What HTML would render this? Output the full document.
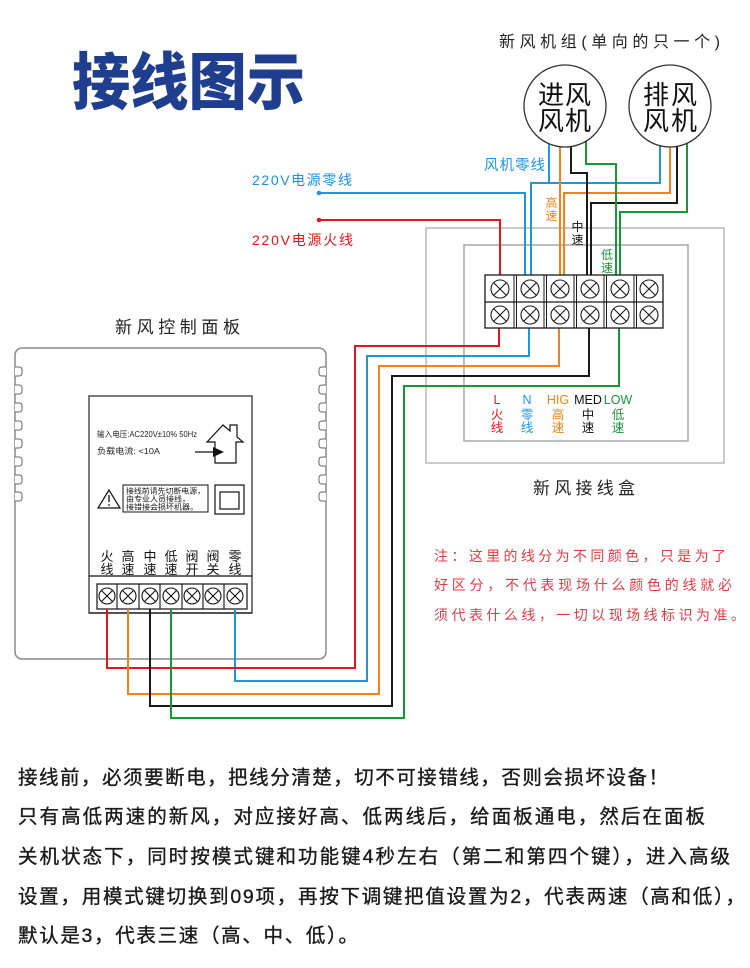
<!DOCTYPE html>
<html><head><meta charset="utf-8">
<style>
html,body{margin:0;padding:0;background:#fff;}
svg{display:block;}
text{font-family:"Liberation Sans","Noto Sans CJK SC",sans-serif;}
</style></head>
<body>
<svg width="750" height="968" viewBox="0 0 750 968" xmlns="http://www.w3.org/2000/svg">
<rect width="750" height="968" fill="#fff"/>

<!-- Title -->
<text x="72" y="104" font-size="62" font-weight="900" fill="#1f3e8e" textLength="233" lengthAdjust="spacingAndGlyphs">接线图示</text>

<!-- Fan group title -->
<text x="499" y="47" font-size="16" fill="#222" textLength="221">新风机组(单向的只一个)</text>

<!-- Junction box gray frames -->
<rect x="426" y="228" width="298" height="235" fill="none" stroke="#b8b8b8" stroke-width="1.5"/>
<rect x="464" y="245" width="224" height="196" fill="none" stroke="#9a9a9a" stroke-width="1.3"/>

<!-- Panel body -->
<rect x="15" y="348" width="311" height="311" rx="7" ry="7" fill="#fff" stroke="#8a8a8a" stroke-width="1.5"/>
<g fill="#fff" stroke="#666" stroke-width="1">
<path d="M15,367 H19 Q22,367 22,370 V373 Q22,376 19,376 H15"/>
<path d="M15,385 H19 Q22,385 22,388 V391 Q22,394 19,394 H15"/>
<path d="M15,403 H19 Q22,403 22,406 V409 Q22,412 19,412 H15"/>
<path d="M15,421 H19 Q22,421 22,424 V427 Q22,430 19,430 H15"/>
<path d="M15,439 H19 Q22,439 22,442 V445 Q22,448 19,448 H15"/>
<path d="M15,457 H19 Q22,457 22,460 V463 Q22,466 19,466 H15"/>
<path d="M15,475 H19 Q22,475 22,478 V481 Q22,484 19,484 H15"/>
<path d="M15,492 H19 Q22,492 22,495 V498 Q22,501 19,501 H15"/>
<path d="M326,367 H322 Q319,367 319,370 V373 Q319,376 322,376 H326"/>
<path d="M326,385 H322 Q319,385 319,388 V391 Q319,394 322,394 H326"/>
<path d="M326,403 H322 Q319,403 319,406 V409 Q319,412 322,412 H326"/>
<path d="M326,421 H322 Q319,421 319,424 V427 Q319,430 322,430 H326"/>
<path d="M326,439 H322 Q319,439 319,442 V445 Q319,448 322,448 H326"/>
<path d="M326,457 H322 Q319,457 319,460 V463 Q319,466 322,466 H326"/>
<path d="M326,475 H322 Q319,475 319,478 V481 Q319,484 322,484 H326"/>
<path d="M326,492 H322 Q319,492 319,495 V498 Q319,501 322,501 H326"/>
</g>

<!-- Panel title -->
<text x="115" y="333" font-size="17" fill="#222" textLength="125">新风控制面板</text>

<!-- Inner label area -->
<rect x="89" y="396" width="163" height="217" fill="#fff" stroke="#333" stroke-width="1.3"/>
<text x="97" y="437" font-size="8" fill="#222" textLength="100" lengthAdjust="spacingAndGlyphs">输入电压:AC220V±10% 50Hz</text>
<text x="97" y="454" font-size="8.5" fill="#222" textLength="63" lengthAdjust="spacingAndGlyphs">负载电流: &lt;10A</text>
<!-- house -->
<path d="M215,463 V442 H207 L223,425 L230,431 V425 H237 V437 L243,442 H236 V463 Z" fill="none" stroke="#111" stroke-width="1.2"/>
<line x1="195" y1="452" x2="214" y2="452" stroke="#111" stroke-width="1.3"/>
<polygon points="213,447 224,452 213,457" fill="#111"/>
<!-- warning -->
<polygon points="109,490 98,508 120,508" fill="none" stroke="#111" stroke-width="1.2"/>
<line x1="109" y1="495" x2="109" y2="502" stroke="#111" stroke-width="1.3"/>
<circle cx="109" cy="505" r="0.9" fill="#111"/>
<rect x="123" y="485" width="85" height="27" fill="none" stroke="#111" stroke-width="1"/>
<text x="126" y="493.5" font-size="7.5" fill="#111" textLength="79" lengthAdjust="spacingAndGlyphs">接线前请先切断电源，</text>
<text x="126" y="501.5" font-size="7.5" fill="#111" textLength="64" lengthAdjust="spacingAndGlyphs">由专业人员接线，</text>
<text x="126" y="509.5" font-size="7.5" fill="#111" textLength="72" lengthAdjust="spacingAndGlyphs">接错接会损坏机器。</text>
<rect x="215" y="485" width="29" height="29" fill="none" stroke="#111" stroke-width="1.2"/>
<rect x="220" y="492" width="19" height="17" fill="none" stroke="#111" stroke-width="1.2"/>

<!-- panel labels -->
<g font-size="13" fill="#111" text-anchor="middle">
<text x="107" y="561">火</text><text x="107" y="574">线</text>
<text x="128" y="561">高</text><text x="128" y="574">速</text>
<text x="150" y="561">中</text><text x="150" y="574">速</text>
<text x="171" y="561">低</text><text x="171" y="574">速</text>
<text x="192" y="561">阀</text><text x="192" y="574">开</text>
<text x="213" y="561">阀</text><text x="213" y="574">关</text>
<text x="235" y="561">零</text><text x="235" y="574">线</text>
</g>
<!-- panel terminal frame -->
<line x1="89" y1="576" x2="252" y2="576" stroke="#111" stroke-width="1.3"/>
<line x1="89" y1="613" x2="252" y2="613" stroke="#111" stroke-width="1.3"/>
<rect x="97" y="584" width="150" height="25" fill="#fff" stroke="#111" stroke-width="1.2"/>
<g stroke="#111" stroke-width="1.1">
<line x1="117" y1="584" x2="117" y2="609"/>
<line x1="139" y1="584" x2="139" y2="609"/>
<line x1="160" y1="584" x2="160" y2="609"/>
<line x1="182" y1="584" x2="182" y2="609"/>
<line x1="203" y1="584" x2="203" y2="609"/>
<line x1="224" y1="584" x2="224" y2="609"/>
</g>
<g fill="none" stroke="#111" stroke-width="1.1">
<circle cx="107" cy="596" r="8"/><path d="M101.4,590.4 L112.6,601.6 M112.6,590.4 L101.4,601.6"/>
<circle cx="128" cy="596" r="8"/><path d="M122.4,590.4 L133.6,601.6 M133.6,590.4 L122.4,601.6"/>
<circle cx="150" cy="596" r="8"/><path d="M144.4,590.4 L155.6,601.6 M155.6,590.4 L144.4,601.6"/>
<circle cx="171" cy="596" r="8"/><path d="M165.4,590.4 L176.6,601.6 M176.6,590.4 L165.4,601.6"/>
<circle cx="192" cy="596" r="8"/><path d="M186.4,590.4 L197.6,601.6 M197.6,590.4 L186.4,601.6"/>
<circle cx="213" cy="596" r="8"/><path d="M207.4,590.4 L218.6,601.6 M218.6,590.4 L207.4,601.6"/>
<circle cx="235" cy="596" r="8"/><path d="M229.4,590.4 L240.6,601.6 M240.6,590.4 L229.4,601.6"/>
</g>

<!-- WIRES -->
<g fill="none" stroke-width="2" stroke-linejoin="miter">
<path d="M319,193 H525 V275" stroke="#1e96e0"/>
<path d="M549,140 V183" stroke="#1e96e0"/>
<path d="M660,140 V183 H531 V275" stroke="#1e96e0"/>
<path d="M529,328 V356 H367 V681 H235 V609" stroke="#1e96e0"/>
<path d="M319,220 H500 V275" stroke="#e3161e"/>
<path d="M499,328 V346 H355 V668 H107 V609" stroke="#e3161e"/>
<path d="M560,140 V275" stroke="#f0841a"/>
<path d="M670,140 V193 H564 V275" stroke="#f0841a"/>
<path d="M559,328 V366 H379 V694 H128 V609" stroke="#f0841a"/>
<path d="M571,140 V173 H587 V275" stroke="#1a1a1a"/>
<path d="M677,140 V203 H591 V275" stroke="#1a1a1a"/>
<path d="M589,328 V376 H392 V706 H150 V609" stroke="#1a1a1a"/>
<path d="M586,140 V164 H616 V275" stroke="#17963a"/>
<path d="M687,140 V212 H620 V275" stroke="#17963a"/>
<path d="M619,328 V386 H404 V718 H171 V609" stroke="#17963a"/>
</g>
<circle cx="319" cy="193" r="2.3" fill="#1e96e0"/>
<circle cx="319" cy="220" r="2.3" fill="#e3161e"/>

<!-- 220V labels -->
<text x="252" y="185" font-size="14" fill="#1e8fd8" textLength="100">220V电源零线</text>
<text x="252" y="245" font-size="14" fill="#e3161e" textLength="101">220V电源火线</text>

<!-- Fan circles -->
<circle cx="565" cy="106" r="41" fill="#fff" stroke="#333" stroke-width="1.3"/>
<circle cx="670" cy="106" r="41" fill="#fff" stroke="#333" stroke-width="1.3"/>
<g font-size="26" fill="#111">
<text x="538" y="104" textLength="53">进风</text>
<text x="538" y="130" textLength="53">风机</text>
<text x="643" y="104" textLength="54">排风</text>
<text x="643" y="130" textLength="54">风机</text>
</g>

<!-- fan wire labels -->
<text x="484" y="170" font-size="14.5" fill="#1e96e0" textLength="61">风机零线</text>
<g font-size="12" text-anchor="middle">
<text x="551.5" y="207" fill="#f0841a">高</text><text x="551.5" y="220" fill="#f0841a">速</text>
<text x="577.5" y="231" fill="#111">中</text><text x="577.5" y="244" fill="#111">速</text>
<text x="607" y="259" fill="#17963a">低</text><text x="607" y="272" fill="#17963a">速</text>
</g>

<!-- Terminal block -->
<rect x="485" y="275" width="178" height="53" fill="#fff" stroke="#1a1a1a" stroke-width="1.3"/>
<line x1="485" y1="302" x2="663" y2="302" stroke="#1a1a1a" stroke-width="1.2"/>
<g stroke="#1a1a1a" stroke-width="1">
<line x1="514" y1="275" x2="514" y2="328"/><line x1="516.5" y1="275" x2="516.5" y2="328"/>
<line x1="544" y1="275" x2="544" y2="328"/><line x1="546.5" y1="275" x2="546.5" y2="328"/>
<line x1="574" y1="275" x2="574" y2="328"/><line x1="576.5" y1="275" x2="576.5" y2="328"/>
<line x1="604" y1="275" x2="604" y2="328"/><line x1="606.5" y1="275" x2="606.5" y2="328"/>
<line x1="634" y1="275" x2="634" y2="328"/><line x1="636.5" y1="275" x2="636.5" y2="328"/>
</g>
<g fill="none" stroke="#1a1a1a" stroke-width="1.1">
<circle cx="500" cy="289" r="9"/><path d="M493.6,282.6 L506.4,295.4 M506.4,282.6 L493.6,295.4"/>
<circle cx="530" cy="289" r="9"/><path d="M523.6,282.6 L536.4,295.4 M536.4,282.6 L523.6,295.4"/>
<circle cx="560" cy="289" r="9"/><path d="M553.6,282.6 L566.4,295.4 M566.4,282.6 L553.6,295.4"/>
<circle cx="590" cy="289" r="9"/><path d="M583.6,282.6 L596.4,295.4 M596.4,282.6 L583.6,295.4"/>
<circle cx="620" cy="289" r="9"/><path d="M613.6,282.6 L626.4,295.4 M626.4,282.6 L613.6,295.4"/>
<circle cx="649" cy="289" r="9"/><path d="M642.6,282.6 L655.4,295.4 M655.4,282.6 L642.6,295.4"/>
<circle cx="500" cy="315" r="9"/><path d="M493.6,308.6 L506.4,321.4 M506.4,308.6 L493.6,321.4"/>
<circle cx="530" cy="315" r="9"/><path d="M523.6,308.6 L536.4,321.4 M536.4,308.6 L523.6,321.4"/>
<circle cx="560" cy="315" r="9"/><path d="M553.6,308.6 L566.4,321.4 M566.4,308.6 L553.6,321.4"/>
<circle cx="590" cy="315" r="9"/><path d="M583.6,308.6 L596.4,321.4 M596.4,308.6 L583.6,321.4"/>
<circle cx="620" cy="315" r="9"/><path d="M613.6,308.6 L626.4,321.4 M626.4,308.6 L613.6,321.4"/>
<circle cx="649" cy="315" r="9"/><path d="M642.6,308.6 L655.4,321.4 M655.4,308.6 L642.6,321.4"/>
</g>

<!-- terminal legend -->
<g text-anchor="middle">
<g font-size="12.5">
<text x="497" y="404" fill="#e3161e">L</text>
<text x="527" y="404" fill="#1e96e0">N</text>
<text x="558" y="404" fill="#f0841a">HIG</text>
<text x="588" y="404" fill="#111">MED</text>
<text x="618" y="404" fill="#17963a">LOW</text>
</g>
<g font-size="12.5">
<text x="497" y="419" fill="#e3161e">火</text><text x="497" y="432" fill="#e3161e">线</text>
<text x="527" y="419" fill="#1e96e0">零</text><text x="527" y="432" fill="#1e96e0">线</text>
<text x="558" y="419" fill="#f0841a">高</text><text x="558" y="432" fill="#f0841a">速</text>
<text x="588" y="419" fill="#111">中</text><text x="588" y="432" fill="#111">速</text>
<text x="618" y="419" fill="#17963a">低</text><text x="618" y="432" fill="#17963a">速</text>
</g>
</g>
<text x="533" y="494" font-size="17" fill="#222" textLength="102">新风接线盒</text>

<!-- Note -->
<g font-size="14" fill="#e53a46">
<text x="434" y="561" textLength="292">注：这里的线分为不同颜色，只是为了</text>
<text x="434" y="590" textLength="298">好区分，不代表现场什么颜色的线就必</text>
<text x="434" y="620" textLength="311">须代表什么线，一切以现场线标识为准。</text>
</g>

<!-- Bottom text -->
<g font-size="19.5" fill="#1a1a1a" stroke="#1a1a1a" stroke-width="0.35">
<text x="18" y="784" textLength="650">接线前，必须要断电，把线分清楚，切不可接错线，否则会损坏设备！</text>
<text x="18" y="823" textLength="687">只有高低两速的新风，对应接好高、低两线后，给面板通电，然后在面板</text>
<text x="18" y="863" textLength="712">关机状态下，同时按模式键和功能键4秒左右（第二和第四个键），进入高级</text>
<text x="18" y="903" textLength="727">设置，用模式键切换到09项，再按下调键把值设置为2，代表两速（高和低），</text>
<text x="18" y="942" textLength="340">默认是3，代表三速（高、中、低）。</text>
</g>
</svg>
</body></html>
